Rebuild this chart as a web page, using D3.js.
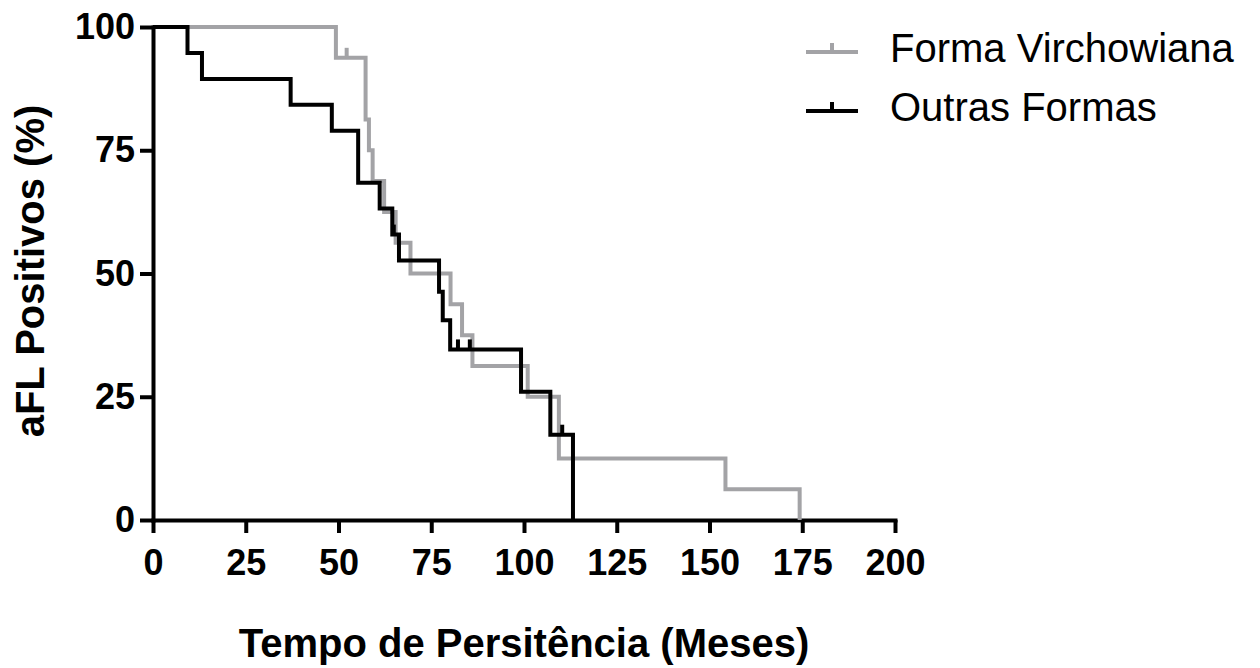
<!DOCTYPE html>
<html>
<head>
<meta charset="utf-8">
<script src="https://cdn.jsdelivr.net/npm/d3@7"></script>
<style>
  body { margin: 0; background: #fff; }
  svg { display: block; font-family: "Liberation Sans", Arial, sans-serif; }
</style>
</head>
<body>
<svg id="chart" width="1260" height="668"></svg>
<script>
// Kaplan-Meier step data
const virchowTimes = [0, 49.3, 57.3, 58.2, 59.2, 62.3, 65.4, 69.4, 80.2, 83.3, 86.1, 101, 109.4, 154.3, 174.3]
const virchowValues = [100, 93.75, 81.25, 75, 68.75, 62.5, 56.25, 50, 43.75, 37.5, 31.25, 25, 12.5, 6.25, 0]
const virchowCensored = [52.2]

const outrasTimes = [0, 9.3, 13.2, 37.1, 48.2, 55.3, 61.1, 64.5, 66.3, 77.1, 78.1, 80.1, 99.2, 107.1, 113.2]
const outrasValues = [100, 94.74, 89.47, 84.21, 78.95, 68.42, 63.16, 57.89, 52.63, 46.3, 40.5, 34.6, 26.0, 17.3, 0]
const outrasCensored = [64.9, 82.2, 85.4, 110.3]

const xTicks = [0, 25, 50, 75, 100, 125, 150, 175, 200]
const yTicks = [0, 25, 50, 75, 100]

const seriesNames = ['Forma Virchowiana', 'Outras Formas']
const seriesColors = ['#a3a3a6', '#000000']

const svg = d3.select('#chart')

const x = d3.scaleLinear().domain([0, 200]).range([153, 895])
const y = d3.scaleLinear().domain([0, 100]).range([520, 27])

// axes
const xAxis = svg.append('g')
  .attr('transform', `translate(0, ${ y(0) })`)
  .call(d3.axisBottom(x).tickValues(xTicks).tickSize(13).tickSizeOuter(0).tickPadding(16))

const yAxis = svg.append('g')
  .attr('transform', `translate(${ x(0) }, 0)`)
  .call(d3.axisLeft(y).tickValues(yTicks).tickSize(13).tickSizeOuter(0).tickPadding(5))

;[xAxis, yAxis].forEach(a => {
  a.select('.domain').attr('stroke', '#000').attr('stroke-width', 4).attr('stroke-linecap', 'square')
  a.selectAll('.tick line').attr('stroke', '#000').attr('stroke-width', 4)
  a.selectAll('.tick text')
    .attr('fill', '#000')
    .style('font-size', '36px')
    .style('font-weight', 'bold')
    .style('font-family', '"Liberation Sans", Arial, sans-serif')
})

// survival curves
const line = d3.line()
  .x(d => x(d[0]))
  .y(d => y(d[1]))
  .curve(d3.curveStepAfter)

function valueAt(times, values, t) {
  let v = values[0]
  times.forEach((tt, i) => { if(tt <= t) v = values[i] })
  return v
}

const series = [
  { times: virchowTimes, values: virchowValues, censored: virchowCensored, color: seriesColors[0] },
  { times: outrasTimes, values: outrasValues, censored: outrasCensored, color: seriesColors[1] }
]

series.forEach(s => {
  const g = svg.append('g')

  g.append('path')
    .datum(d3.zip(s.times, s.values))
    .attr('fill', 'none')
    .attr('stroke', s.color)
    .attr('stroke-width', 4)
    .attr('d', line)

  g.selectAll('line.censor')
    .data(s.censored)
    .join('line')
    .attr('class', 'censor')
    .attr('x1', d => x(d))
    .attr('x2', d => x(d))
    .attr('y1', d => y(valueAt(s.times, s.values, d)))
    .attr('y2', d => y(valueAt(s.times, s.values, d)) - 10)
    .attr('stroke', s.color)
    .attr('stroke-width', 4)
})

// axis titles
svg.append('text')
  .attr('x', 524)
  .attr('y', 657)
  .attr('text-anchor', 'middle')
  .style('font-size', '40px')
  .style('font-weight', 'bold')
  .text('Tempo de Persitência (Meses)')

svg.append('text')
  .attr('transform', 'translate(44, 271) rotate(-90)')
  .attr('text-anchor', 'middle')
  .style('font-size', '40px')
  .style('font-weight', 'bold')
  .text('aFL Positivos (%)')

// legend
const legend = svg.append('g')
  .selectAll('g')
  .data(seriesNames)
  .join('g')
  .attr('transform', (d, i) => `translate(806, ${ 52 + i * 59 })`)

legend.append('line')
  .attr('x1', 0).attr('x2', 52)
  .attr('stroke', (d, i) => seriesColors[i])
  .attr('stroke-width', 4)

legend.append('line')
  .attr('x1', 26).attr('x2', 26)
  .attr('y1', 0).attr('y2', -9)
  .attr('stroke', (d, i) => seriesColors[i])
  .attr('stroke-width', 4)

legend.append('text')
  .attr('x', 84)
  .attr('y', 10)
  .style('font-size', '40px')
  .text(d => d)
</script>
</body>
</html>
